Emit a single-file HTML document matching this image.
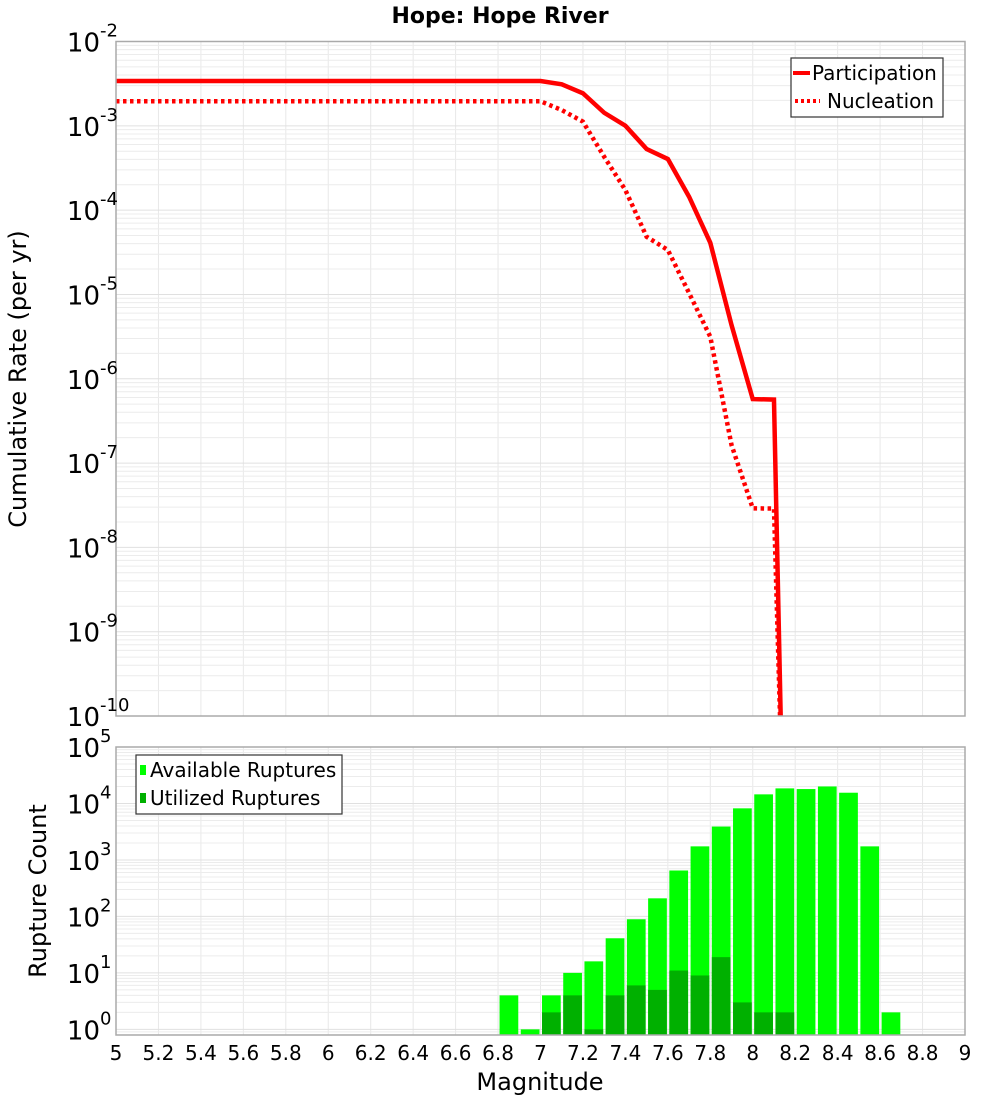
<!DOCTYPE html>
<html><head><meta charset="utf-8">
<style>
html,body{margin:0;padding:0;background:#fff;}
svg{display:block;font-family:"DejaVu Sans","Liberation Sans",sans-serif;}
</style></head>
<body>
<svg id="chart" width="1000" height="1100" viewBox="0 0 1000 1100" xmlns="http://www.w3.org/2000/svg">
<text x="500" y="23" text-anchor="middle" font-weight="bold" font-size="22">Hope: Hope River</text>
<g id="topPlot"></g>
<g id="botPlot"></g>
<text transform="translate(26,379) rotate(-90)" text-anchor="middle" font-size="24">Cumulative Rate (per yr)</text>
<text transform="translate(46,891) rotate(-90)" text-anchor="middle" font-size="24">Rupture Count</text>
<text x="540" y="1090" text-anchor="middle" font-size="24">Magnitude</text>
</svg>
<script>
// ---- data ----
const partMags = [5.0, 7.0, 7.1, 7.2, 7.3, 7.4, 7.5, 7.6, 7.7, 7.8, 7.9, 8.0, 8.1, 8.14];
const partLog = [-2.469, -2.469, -2.508, -2.614, -2.845, -2.999, -3.275, -3.394, -3.841, -4.387, -5.363, -6.241, -6.247, -11];
const nuclMags = [5.0, 7.0, 7.1, 7.2, 7.3, 7.4, 7.5, 7.6, 7.7, 7.8, 7.9, 8.0, 8.1, 8.14];
const nuclLog = [-2.709, -2.709, -2.813, -2.951, -3.367, -3.762, -4.316, -4.473, -4.984, -5.502, -6.786, -7.537, -7.540, -11];
const binMags = [6.8, 6.9, 7.0, 7.1, 7.2, 7.3, 7.4, 7.5, 7.6, 7.7, 7.8, 7.9, 8.0, 8.1, 8.2, 8.3, 8.4, 8.5, 8.6];
const availCounts = [4, 1, 4, 10, 16, 41, 89, 209, 650, 1740, 3900, 8200, 14500, 18500, 18000, 20000, 15500, 1740, 2];
const usedCounts = [0, 0, 2, 4, 1, 4, 6, 5, 11, 9, 19, 3, 2, 2, 0, 0, 0, 0, 0];
const xTicks = ["5","5.2","5.4","5.6","5.8","6","6.2","6.4","6.6","6.8","7","7.2","7.4","7.6","7.8","8","8.2","8.4","8.6","8.8","9"];
const topExp = [-2,-3,-4,-5,-6,-7,-8,-9,-10];
const botExp = [5,4,3,2,1,0];

const NS="http://www.w3.org/2000/svg";
function mk(tag, attrs, parent){const e=document.createElementNS(NS,tag);for(const k in attrs)e.setAttribute(k,attrs[k]);parent.appendChild(e);return e;}
const X0=116, X1=965;
const xs = m => X0 + (m-5)/4*(X1-X0);
const T0=41.5, T1=716, tMax=-2, tMin=-10;
const ysTop = l => T0 + (tMax-l)/(tMax-tMin)*(T1-T0);
const B0=747, B1=1035, bMax=5, bMin=-0.1;
const ysBot = v => B0 + (bMax-Math.log10(v))/(bMax-bMin)*(B1-B0);

const gTop=document.getElementById('topPlot'), gBot=document.getElementById('botPlot');
const svgEl=document.getElementById('chart');
mk('defs',{},svgEl).innerHTML='<clipPath id="ct"><rect x="116" y="41.5" width="849" height="674.5"/></clipPath><clipPath id="cb"><rect x="116" y="747" width="849" height="288"/></clipPath>';

function grid(g, y0, y1, decades, yfun){
  for(let i=0;i<=20;i++){const x=xs(5+i*0.2);
    const l=mk('line',{x1:x,x2:x,y1:y0,y2:y1,stroke:'#e8e8e8','stroke-width':1},g);
    
    }
  decades.forEach(d=>{for(let k=1;k<=9;k++){const y=yfun(d,k); if(y<y0-0.5||y>y1+0.5)continue;
    const l=mk('line',{x1:X0,x2:X1,y1:y,y2:y,stroke:k===1?'#e0e0e0':'#ececec','stroke-width':1},g);
    
    }});
}
grid(gTop,T0,T1,[-10,-9,-8,-7,-6,-5,-4,-3,-2],(d,k)=>ysTop(d+Math.log10(k)));
grid(gBot,B0,B1,[-1,0,1,2,3,4],(d,k)=>ysBot(Math.pow(10,d)*k));

function line(mags, logs, dash, name){
  const pts=mags.map((m,i)=>xs(m)+','+ysTop(logs[i])).join(' ');
  const attrs={points:pts,fill:'none',stroke:'#ff0000','stroke-width':4.5,'clip-path':'url(#ct)'};
  if(dash) attrs['stroke-dasharray']=dash;
  const p=mk('polyline',attrs,gTop);
  
  
}
line(nuclMags,nuclLog,'3.5,3.5','nucleation-line');
line(partMags,partLog,null,'participation-line');
mk('rect',{x:X0,y:T0,width:X1-X0,height:T1-T0,fill:'none',stroke:'#aaaaaa','stroke-width':1.5},gTop);

binMags.forEach((m,i)=>{
  const xa=xs(m)+1.5, w=xs(m+0.1)-xs(m)-2.5;
  if(availCounts[i]>0){const y=ysBot(availCounts[i]);
    const r=mk('rect',{x:xa,y:y,width:w,height:B1-y,fill:'#00ff00','clip-path':'url(#cb)'},gBot);
    
    }
  if(usedCounts[i]>0){const y=ysBot(usedCounts[i]);
    const r=mk('rect',{x:xa,y:y,width:w,height:B1-y,fill:'#00b000','clip-path':'url(#cb)'},gBot);
    
    }
});
mk('rect',{x:X0,y:B0,width:X1-X0,height:B1-B0,fill:'none',stroke:'#aaaaaa','stroke-width':1.5},gBot);

function ylab(g,y,e,name){
  const t=mk('text',{x:100,y:y+10,'text-anchor':'end','font-size':26},g);t.textContent='10';
  
  
  const s=mk('text',{x:100,y:y-5,'font-size':18},g);s.textContent=String(e);
  
  
}
topExp.forEach(e=>ylab(gTop,ysTop(e),e,'y-tick-label-top'));
botExp.forEach(e=>ylab(gBot,ysBot(Math.pow(10,e)),e,'y-tick-label-bottom'));
xTicks.forEach((s,i)=>{const t=mk('text',{x:xs(5+i*0.2),y:1060,'text-anchor':'middle','font-size':20},gBot);t.textContent=s;
  
  });

const lg=mk('g',{},gTop);


mk('rect',{x:791,y:58,width:152,height:59,fill:'#fff',stroke:'#333','stroke-width':1.2},lg);
mk('line',{x1:793,x2:810,y1:73,y2:73,stroke:'#f00','stroke-width':4},lg);
mk('line',{x1:795,x2:820,y1:101,y2:101,stroke:'#f00','stroke-width':4,'stroke-dasharray':'3,3'},lg);
let t=mk('text',{x:812,y:80,'font-size':20},lg);t.textContent='Participation';
t=mk('text',{x:827,y:108,'font-size':20},lg);t.textContent='Nucleation';
const lb=mk('g',{},gBot);


mk('rect',{x:136,y:755,width:206,height:59,fill:'#fff',stroke:'#333','stroke-width':1.2},lb);
mk('rect',{x:140,y:765,width:6,height:10,fill:'#00ff00'},lb);
mk('rect',{x:140,y:793,width:6,height:10,fill:'#00b000'},lb);
t=mk('text',{x:150,y:777,'font-size':20},lb);t.textContent='Available Ruptures';
t=mk('text',{x:150,y:805,'font-size':20},lb);t.textContent='Utilized Ruptures';
</script>
</body></html>
